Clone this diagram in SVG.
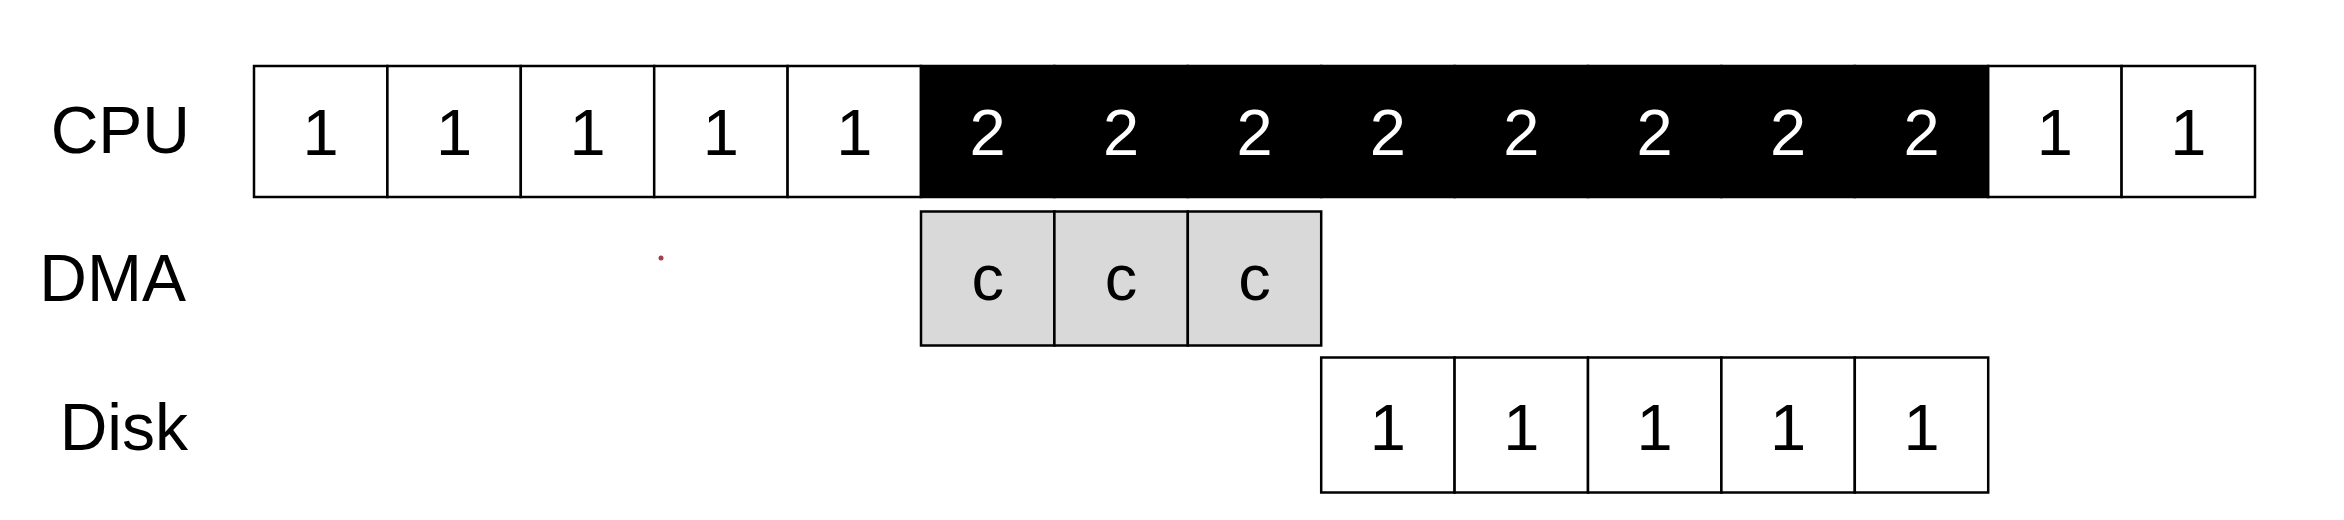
<svg xmlns="http://www.w3.org/2000/svg" width="2344" height="520" viewBox="0 0 2344 520">
<style>
  .lbl { font-family: "Liberation Sans", Arial, sans-serif; font-size: 66px; fill: #000; text-anchor: end; }
  .num { font-family: "Liberation Sans", Arial, sans-serif; font-size: 65px; text-anchor: middle; }
  .w rect { fill: #fff; stroke: #000; stroke-width: 2.5; }
  .w text { fill: #000; }
  .b rect { fill: #000; stroke: #000; stroke-width: 2.5; }
  .b text { fill: #fff; }
  .g rect { fill: #d9d9d9; stroke: #000; stroke-width: 2.5; }
  .g text { fill: #000; }
</style>
<rect width="2344" height="520" fill="#fff"/>
<g id="labels">
  <text class="lbl" x="190" y="153">CPU</text>
  <text class="lbl" x="186" y="301">DMA</text>
  <text class="lbl" x="188" y="450">Disk</text>
</g>
<g id="cpu">
  <g id="cpu-1" class="w"><rect x="254" y="66" width="133.4" height="131"/><text class="num" x="320.7" y="155">1</text></g>
  <g id="cpu-2" class="w"><rect x="387.4" y="66" width="133.4" height="131"/><text class="num" x="454.1" y="155">1</text></g>
  <g id="cpu-3" class="w"><rect x="520.8" y="66" width="133.4" height="131"/><text class="num" x="587.5" y="155">1</text></g>
  <g id="cpu-4" class="w"><rect x="654.2" y="66" width="133.4" height="131"/><text class="num" x="720.9" y="155">1</text></g>
  <g id="cpu-5" class="w"><rect x="787.6" y="66" width="133.4" height="131"/><text class="num" x="854.3" y="155">1</text></g>
  <g id="cpu-6" class="b"><rect x="921" y="66" width="133.4" height="131"/><text class="num" x="987.7" y="155">2</text></g>
  <g id="cpu-7" class="b"><rect x="1054.4" y="66" width="133.4" height="131"/><text class="num" x="1121.1" y="155">2</text></g>
  <g id="cpu-8" class="b"><rect x="1187.8" y="66" width="133.4" height="131"/><text class="num" x="1254.5" y="155">2</text></g>
  <g id="cpu-9" class="b"><rect x="1321.2" y="66" width="133.4" height="131"/><text class="num" x="1387.9" y="155">2</text></g>
  <g id="cpu-10" class="b"><rect x="1454.6" y="66" width="133.4" height="131"/><text class="num" x="1521.3" y="155">2</text></g>
  <g id="cpu-11" class="b"><rect x="1588" y="66" width="133.4" height="131"/><text class="num" x="1654.7" y="155">2</text></g>
  <g id="cpu-12" class="b"><rect x="1721.4" y="66" width="133.4" height="131"/><text class="num" x="1788.1" y="155">2</text></g>
  <g id="cpu-13" class="b"><rect x="1854.8" y="66" width="133.4" height="131"/><text class="num" x="1921.5" y="155">2</text></g>
  <g id="cpu-14" class="w"><rect x="1988.2" y="66" width="133.4" height="131"/><text class="num" x="2054.9" y="155">1</text></g>
  <g id="cpu-15" class="w"><rect x="2121.6" y="66" width="133.4" height="131"/><text class="num" x="2188.3" y="155">1</text></g>
</g>
<g id="dma">
  <g id="dma-1" class="g"><rect x="921" y="211.5" width="133.4" height="134"/><text class="num" x="987.7" y="300">c</text></g>
  <g id="dma-2" class="g"><rect x="1054.4" y="211.5" width="133.4" height="134"/><text class="num" x="1121.1" y="300">c</text></g>
  <g id="dma-3" class="g"><rect x="1187.8" y="211.5" width="133.4" height="134"/><text class="num" x="1254.5" y="300">c</text></g>
</g>
<g id="disk">
  <g id="disk-1" class="w"><rect x="1321.2" y="357.5" width="133.4" height="135"/><text class="num" x="1387.9" y="450">1</text></g>
  <g id="disk-2" class="w"><rect x="1454.6" y="357.5" width="133.4" height="135"/><text class="num" x="1521.3" y="450">1</text></g>
  <g id="disk-3" class="w"><rect x="1588" y="357.5" width="133.4" height="135"/><text class="num" x="1654.7" y="450">1</text></g>
  <g id="disk-4" class="w"><rect x="1721.4" y="357.5" width="133.4" height="135"/><text class="num" x="1788.1" y="450">1</text></g>
  <g id="disk-5" class="w"><rect x="1854.8" y="357.5" width="133.4" height="135"/><text class="num" x="1921.5" y="450">1</text></g>
</g>
<g id="connectors"></g>
<circle cx="661" cy="258" r="2.5" fill="#a0404f"/>
</svg>
